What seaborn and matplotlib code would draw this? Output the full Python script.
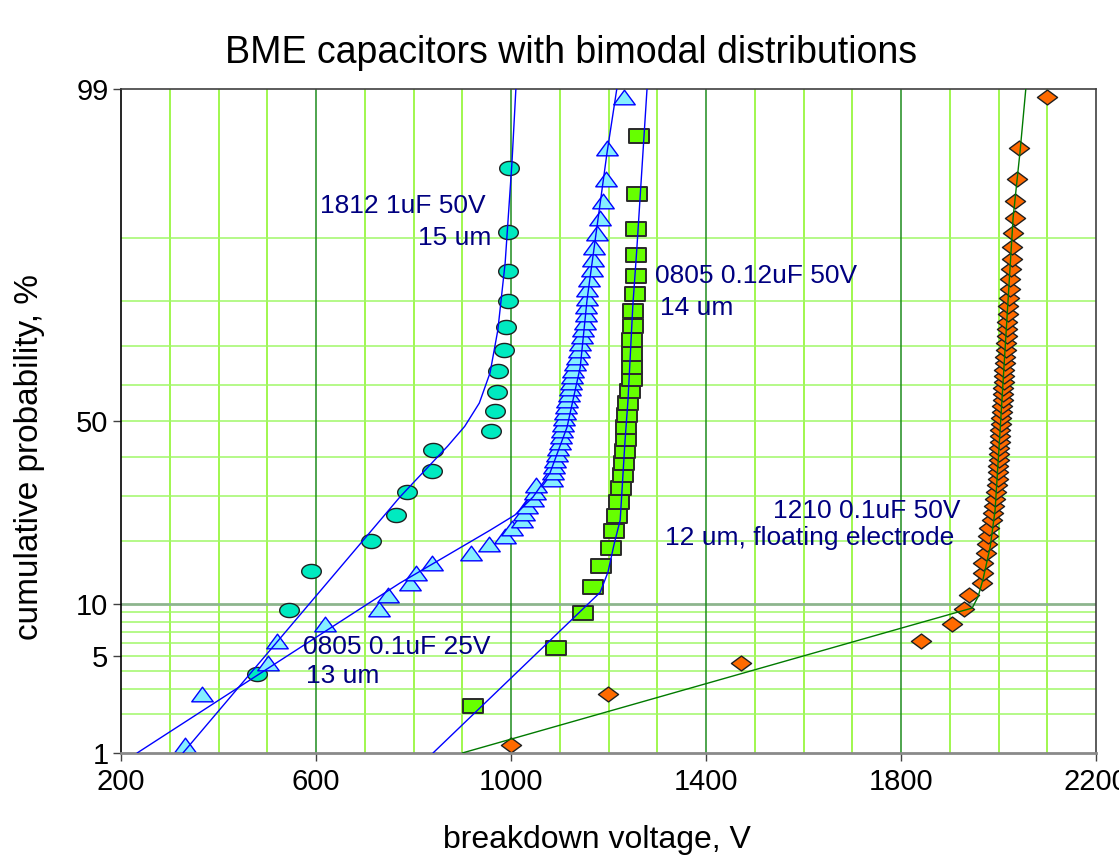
import numpy as np
import pandas as pd
import matplotlib
matplotlib.use("Agg")
import matplotlib.pyplot as plt
from matplotlib.path import Path
from matplotlib.markers import MarkerStyle
import seaborn as sns
from statistics import NormalDist

# ---------------- data ----------------
# 1812 1uF 50V, 15 um  (circles)
circ_v = [479, 545, 590, 713, 764, 787, 838, 840, 959, 967, 971, 973, 986, 990, 994, 994, 994, 996]
circ_p = [3.80, 9.24, 14.67, 20.11, 25.54, 30.98, 36.41, 41.85, 47.28, 52.72, 58.15, 63.59,
          69.02, 74.46, 79.89, 85.33, 90.76, 96.20]

# 0805 0.1uF 25V, 13 um  (triangles)
tri_v = [331, 366, 502, 520, 618, 729, 748, 793, 805, 838,
         918, 955, 988, 1002, 1023, 1027, 1033, 1045, 1049, 1051,
         1084, 1086, 1088, 1090, 1094, 1096, 1101, 1103, 1105, 1107,
         1109, 1111, 1113, 1115, 1119, 1121, 1123, 1125, 1127, 1131,
         1135, 1139, 1142, 1146, 1148, 1152, 1154, 1154, 1156, 1156,
         1160, 1166, 1168, 1170, 1176, 1183, 1189, 1195, 1197, 1232]
p60 = [1.16, 2.81, 4.47, 6.13, 7.78, 9.44, 11.09, 12.75, 14.40, 16.06,
       17.72, 19.37, 21.03, 22.68, 24.34, 25.99, 27.65, 29.30, 30.96, 32.62,
       34.27, 35.93, 37.58, 39.24, 40.89, 42.55, 44.21, 45.86, 47.52, 49.17,
       50.83, 52.48, 54.14, 55.79, 57.45, 59.11, 60.76, 62.42, 64.07, 65.73,
       67.38, 69.04, 70.70, 72.35, 74.01, 75.66, 77.32, 78.97, 80.63, 82.28,
       83.94, 85.60, 87.25, 88.91, 90.56, 92.22, 93.87, 95.53, 97.19, 98.84]
tri_p = p60

# 0805 0.12uF 50V, 14 um  (squares)
sq_v = [922, 1092, 1148, 1168, 1185, 1205, 1211, 1217, 1222, 1226,
        1230, 1232, 1234, 1236, 1236, 1238, 1240, 1244, 1248, 1248,
        1248, 1248, 1250, 1250, 1254, 1256, 1256, 1256, 1258, 1263]
sq_p = [2.30, 5.59, 8.88, 12.17, 15.46, 18.75, 22.04, 25.33, 28.62, 31.91,
        35.20, 38.49, 41.78, 45.07, 48.36, 51.64, 54.93, 58.22, 61.51, 64.80,
        68.09, 71.38, 74.67, 77.96, 81.25, 84.54, 87.83, 91.12, 94.41, 97.70]

# 1210 0.1uF 50V, 12 um floating electrode  (diamonds)
dia_v = [1000, 1199, 1472, 1841, 1905, 1929, 1940, 1966, 1968, 1968,
         1974, 1976, 1979, 1981, 1987, 1989, 1991, 1993, 1995, 1997,
         1998, 1999, 1999, 2000, 2001, 2001, 2003, 2003, 2004, 2005,
         2005, 2007, 2007, 2009, 2009, 2009, 2011, 2011, 2012, 2013,
         2013, 2015, 2015, 2017, 2017, 2018, 2019, 2020, 2022, 2024,
         2024, 2026, 2028, 2028, 2030, 2034, 2034, 2038, 2042, 2100]
dia_p = p60

# fitted bimodal curves (vertices)
circ_fit_v = [327, 772, 870, 905, 935, 957, 973, 988, 1002, 1010]
circ_fit_p = [1.0, 29.7, 43.0, 48.5, 55.0, 63.2, 73.8, 86.6, 96.5, 99.0]
tri_fit_v = [233, 772, 957, 1008, 1045, 1080, 1115, 1142, 1156, 1197, 1217]
tri_fit_p = [1.0, 12.8, 22.2, 25.5, 29.7, 35.8, 48.3, 64.7, 80.2, 97.0, 99.0]
sq_fit_v = [840, 1183, 1199, 1211, 1224, 1234, 1240, 1250, 1258, 1279]
sq_fit_p = [1.0, 11.5, 14.5, 19.2, 24.4, 44.7, 55.8, 79.2, 88.5, 99.0]
dia_fit_v = [900, 1798, 1946, 1958, 1968, 1983, 1993, 2003, 2030, 2044, 2056]
dia_fit_p = [1.0, 7.3, 9.5, 10.9, 13.3, 18.9, 26.6, 46.7, 92.3, 97.0, 99.0]

x_ticks = [200, 600, 1000, 1400, 1800, 2200]
y_ticks = [1, 5, 10, 50, 99]
y_tick_labels = ["1", "5", "10", "50", "99"]

title = "BME capacitors with bimodal distributions"
xlabel = "breakdown voltage, V"
ylabel = "cumulative probability, %"

# ---------------- style ----------------
sns.set_style("ticks")
plt.rcParams["font.family"] = ["Liberation Sans", "DejaVu Sans"]
plt.rcParams["text.color"] = "black"
plt.rcParams["xtick.color"] = "black"
plt.rcParams["ytick.color"] = "black"

_nd = NormalDist()
_ppf = np.vectorize(_nd.inv_cdf, otypes=[float])
_cdf = np.vectorize(_nd.cdf, otypes=[float])


def fwd(p):
    p = np.clip(np.asarray(p, dtype=float) / 100.0, 1e-7, 1 - 1e-7)
    return _ppf(p)


def inv(z):
    return _cdf(np.asarray(z, dtype=float)) * 100.0


fig = plt.figure(figsize=(11.19, 8.58), dpi=100)
ax = fig.add_axes([121 / 1119, 1 - 753 / 858, (1096 - 121) / 1119, (753 - 89) / 858])
ax.set_yscale("function", functions=(fwd, inv))
ax.set_xlim(200, 2200)
ax.set_ylim(1, 99)

# grid
light = "#86F51E"
for xv in range(300, 2200, 100):
    if xv in (600, 1000, 1400, 1800):
        ax.axvline(xv, color="#1E8C1E", lw=1.1, zorder=0.5)
    else:
        ax.axvline(xv, color=light, lw=1.1, zorder=0.4)
for yv in [2, 3, 4, 5, 6, 7, 8, 9, 20, 30, 40, 50, 60, 70, 80, 90]:
    ax.axhline(yv, color="#A0F868", lw=1.1, zorder=0.4)
ax.axhline(10, color="#8DB58D", lw=2.0, zorder=0.45)


def ell_marker():
    t = np.linspace(0, 2 * np.pi, 48)
    return MarkerStyle(Path(np.column_stack([np.cos(t), 0.72 * np.sin(t)]), closed=True))


tri_m = MarkerStyle(Path([(0, 0.68), (-1, -0.68), (1, -0.68), (0, 0.68)], closed=True))
sq_m = MarkerStyle(Path([(-1, -0.68), (1, -0.68), (1, 0.68), (-1, 0.68), (-1, -0.68)], closed=True))
dia_m = MarkerStyle(Path([(0, 0.74), (1, 0), (0, -0.74), (-1, 0), (0, 0.74)], closed=True))

series = [
    (circ_v, circ_p, ell_marker(), "#00EAC0", "#202020", 1.0, 200),
    (tri_v, tri_p, tri_m, "#85EEFF", "#0000FF", 1.0, 240),
    (sq_v, sq_p, sq_m, "#66FF00", "#2A2A2A", 1.4, 200),
    (dia_v, dia_p, dia_m, "#FF6A00", "#202020", 1.0, 210),
]
for v, p, m, fc, ec, lw, s in series:
    df = pd.DataFrame({"V": v, "P": p})
    sns.scatterplot(data=df, x="V", y="P", marker=m, s=s, color=fc,
                    edgecolor=ec, linewidth=lw, ax=ax, zorder=2, legend=False)

fits = [
    (circ_fit_v, circ_fit_p, "#0000FF"),
    (tri_fit_v, tri_fit_p, "#0000FF"),
    (sq_fit_v, sq_fit_p, "#0000FF"),
    (dia_fit_v, dia_fit_p, "#007A00"),
]
for v, p, c in fits:
    sns.lineplot(x=v, y=p, sort=False, estimator=None, color=c, lw=1.0, ax=ax, zorder=4)

ax.set_xlim(200, 2200)
ax.set_ylim(1, 99)
ax.set_xticks(x_ticks)
ax.set_xticklabels([str(t) for t in x_ticks])
ax.set_yticks(y_ticks)
ax.set_yticklabels(y_tick_labels)
ax.yaxis.set_minor_locator(matplotlib.ticker.NullLocator())
ax.xaxis.set_minor_locator(matplotlib.ticker.NullLocator())
ax.tick_params(axis="both", direction="out", length=6, width=1, labelsize=21,
               color="#404040", labelcolor="black")
ax.tick_params(axis="x", pad=5)
ax.tick_params(axis="y", pad=3)
ax.set_xlabel("")
ax.set_ylabel("")

for side, col, w in [("left", "#000000", 1.2), ("bottom", "#8A8A8A", 2.0),
                     ("top", "#404040", 1.2), ("right", "#404040", 1.2)]:
    ax.spines[side].set_visible(True)
    ax.spines[side].set_color(col)
    ax.spines[side].set_linewidth(w)

navy = "#000080"
ann = [
    ("1812 1uF 50V", 608, 93.4),
    ("15 um", 809, 90.0),
    ("0805 0.12uF 50V", 1295, 84.6),
    ("14 um", 1305, 78.6),
    ("1210 0.1uF 50V", 1537, 26.4),
    ("12 um, floating electrode", 1316, 20.6),
    ("0805 0.1uF 25V", 573, 5.7),
    ("13 um", 579, 3.7),
]
for txt, xv, yv in ann:
    ax.text(xv, yv, txt, color=navy, fontsize=19, ha="left", va="center", zorder=5)

fig.text(571 / 1119, 1 - 63 / 858, title, ha="center", va="baseline", fontsize=27, color="black")
fig.text(597 / 1119, 1 - 848 / 858, xlabel, ha="center", va="baseline", fontsize=23, color="black")
fig.text(30 / 1119, 1 - 457 / 858, ylabel, ha="center", va="center", rotation=90, fontsize=24,
         color="black")

fig.savefig("out.png", dpi=100)
